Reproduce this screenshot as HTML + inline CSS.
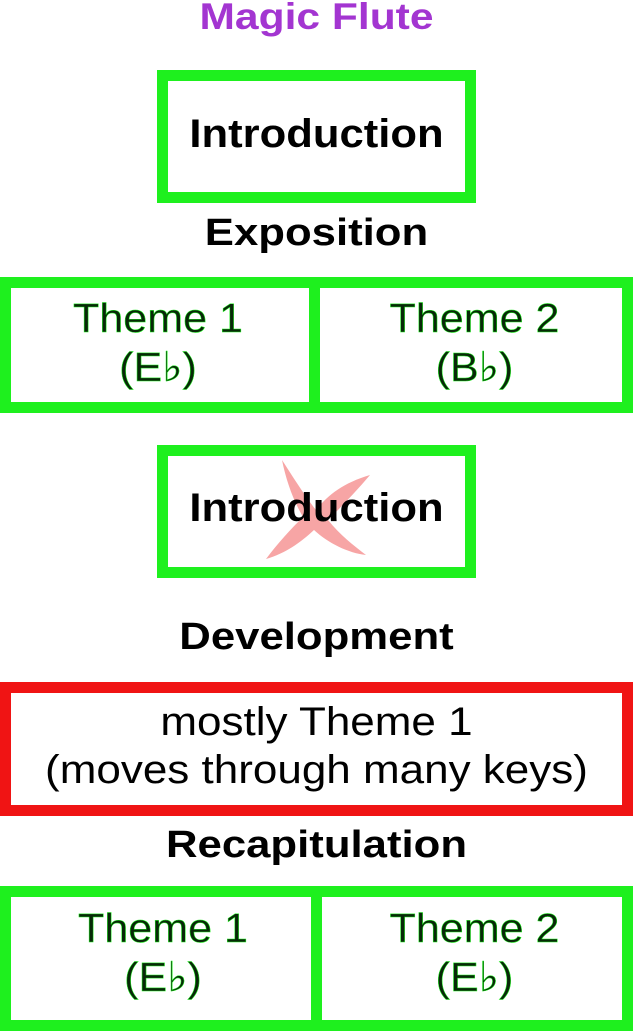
<!DOCTYPE html>
<html><head><meta charset="utf-8"><style>
*{margin:0;padding:0;box-sizing:border-box}
body{width:633px;height:1024px;background:#fff;position:relative;overflow:hidden;font-family:"Liberation Sans",sans-serif}
.a{position:absolute}
.t{position:absolute;left:0;width:633px;text-align:center;font-weight:bold;color:#000;line-height:1;transform:scaleX(1.15)}
.box{position:absolute;border:11px solid #1ef01e;background:#fff}
.th{position:absolute;text-align:center;color:#082808;font-size:41px;line-height:49px;-webkit-text-stroke:0.5px #1ef01e;transform:scaleX(1.05)}
</style></head><body>
<div class="t" style="top:-2px;font-size:37px;color:#a335d1">Magic Flute</div>

<div class="box" style="left:157px;top:70px;width:319px;height:133px"></div>
<div class="t" style="top:114px;font-size:40px;transform:scaleX(1.09)">Introduction</div>

<div class="t" style="top:214px;font-size:38px">Exposition</div>
<div class="box" style="left:0;top:277px;width:633px;height:136px"></div>
<div class="a" style="left:309px;top:277px;width:11px;height:136px;background:#1ef01e"></div>
<div class="th" style="left:0;width:316px;top:294px">Theme 1<br>(E♭)</div>
<div class="th" style="left:316px;width:317px;top:294px">Theme 2<br>(B♭)</div>

<div class="box" style="left:157px;top:445px;width:319px;height:133px"></div>
<svg class="a" style="left:258px;top:455px" width="116" height="105" viewBox="0 0 116 105">
<path d="M24 5 C40 30 50 45 58 55 C70 40 85 28 112 20 C95 40 80 55 70 65 C82 80 95 90 108 100 C90 98 70 88 56 75 C42 88 28 98 8 104 C20 88 32 75 45 62 C35 45 28 25 24 5 Z" fill="#f7a5a5"/>
</svg>
<div class="t" style="top:488px;font-size:40px;transform:scaleX(1.09);mix-blend-mode:multiply">Introduction</div>

<div class="t" style="top:618px;font-size:38px">Development</div>
<div class="box" style="left:0;top:682px;width:633px;height:134px;border-color:#f01414"></div>
<div class="a" style="left:0;width:633px;top:698px;text-align:center;font-size:40px;line-height:48px;color:#000;transform:scaleX(1.1)">mostly Theme 1<br>(moves through many keys)</div>

<div class="t" style="top:826px;font-size:38px">Recapitulation</div>
<div class="box" style="left:0;top:886px;width:633px;height:145px"></div>
<div class="a" style="left:311px;top:886px;width:11px;height:140px;background:#1ef01e"></div>
<div class="th" style="left:0;width:326px;top:904px">Theme 1<br>(E♭)</div>
<div class="th" style="left:316px;width:317px;top:904px">Theme 2<br>(E♭)</div>
</body></html>
